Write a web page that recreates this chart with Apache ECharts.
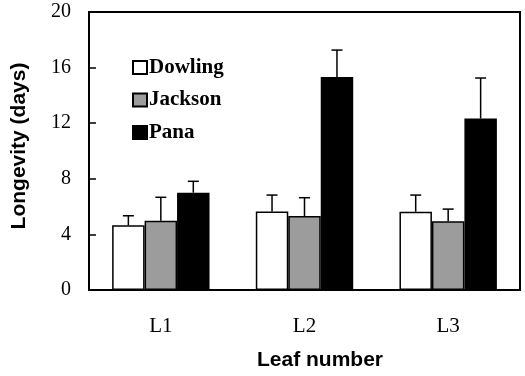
<!DOCTYPE html>
<html>
<head>
<meta charset="utf-8">
<script src="https://cdn.jsdelivr.net/npm/echarts@6/dist/echarts.min.js"></script>
<style>
html,body{margin:0;padding:0;background:#fff;}
#chart{width:525px;height:376px;}
</style>
</head>
<body>
<div id="chart"></div>
<script>
const categories = ['L1', 'L2', 'L3'];
const seriesNames = ['Dowling', 'Jackson', 'Pana'];
const dowling = [4.66, 5.65, 5.63];
const jackson = [4.99, 5.32, 4.94];
const pana = [7.0, 15.32, 12.34];
const dowlingErr = [0.68, 1.18, 1.20];
const jacksonErr = [1.68, 1.32, 0.88];
const panaErr = [0.82, 1.94, 2.91];
const yTicks = [0, 4, 8, 12, 16, 20];

const values = [dowling, jackson, pana];
const errs = [dowlingErr, jacksonErr, panaErr];
const fills = ['#ffffff', '#9c9c9c', '#000000'];
const BAR_FRAC = 0.226;

const chart = echarts.init(document.getElementById('chart'), null, {renderer: 'canvas'});

const barSeries = seriesNames.map((name, i) => ({
  name: name,
  type: 'bar',
  data: values[i],
  barWidth: (BAR_FRAC * 100) + '%',
  barGap: '0%',
  itemStyle: {color: fills[i], borderColor: '#000', borderWidth: 1.5},
  emphasis: {disabled: true},
  z: 2
}));

const errData = [];
values.forEach((arr, si) => {
  arr.forEach((v, ci) => { errData.push([ci, v, errs[si][ci], si]); });
});

const errSeries = {
  type: 'custom',
  data: errData,
  encode: {x: 0, y: 1},
  z: 3,
  silent: true,
  renderItem: function (params, api) {
    const cat = api.value(0), v = api.value(1), e = api.value(2), si = api.value(3);
    const p0 = api.coord([cat, v]);
    const p1 = api.coord([cat, v + e]);
    const cw = api.size([1, 0])[0];
    const bw = cw * BAR_FRAC;
    const x = p0[0] + (si - 1) * bw;
    const st = {stroke: '#000', lineWidth: 1.5};
    return {
      type: 'group',
      children: [
        {type: 'line', shape: {x1: x, y1: p0[1], x2: x, y2: p1[1]}, style: st},
        {type: 'line', shape: {x1: x - 5.5, y1: p1[1], x2: x + 5.5, y2: p1[1]}, style: st}
      ]
    };
  }
};

chart.setOption({
  animation: false,
  backgroundColor: '#fff',
  grid: {left: 89, right: 5, top: 12, bottom: 82, show: true, borderColor: '#000', borderWidth: 2, backgroundColor: 'transparent'},
  legend: {
    orient: 'vertical',
    left: 127,
    top: 52,
    itemWidth: 14,
    itemHeight: 13,
    itemGap: 11.5,
    icon: 'rect',
    selectedMode: false,
    data: seriesNames,
    textStyle: {fontFamily: 'Liberation Serif', fontWeight: 'bold', fontSize: 21, color: '#000', padding: [0, 0, 0, -3]}
  },
  xAxis: {
    type: 'category',
    data: categories,
    name: 'Leaf number',
    nameLocation: 'middle',
    nameGap: 60,
    nameTextStyle: {fontFamily: 'Liberation Sans', fontWeight: 'bold', fontSize: 21, color: '#000', padding: [0, 0, 0, 31]},
    axisLine: {lineStyle: {color: '#000', width: 2}},
    axisTick: {inside: true, length: 7, lineStyle: {color: '#000', width: 1.5}},
    axisLabel: {fontFamily: 'Liberation Serif', fontSize: 21, color: '#000', margin: 26}
  },
  yAxis: {
    type: 'value',
    min: yTicks[0],
    max: yTicks[yTicks.length - 1],
    interval: yTicks[1] - yTicks[0],
    name: 'Longevity (days)',
    nameLocation: 'middle',
    nameGap: 59,
    nameTextStyle: {fontFamily: 'Liberation Sans', fontWeight: 'bold', fontSize: 21, color: '#000', padding: [0, 0, 0, 10]},
    axisLine: {show: true, lineStyle: {color: '#000', width: 2}},
    axisTick: {show: true, inside: true, length: 7, lineStyle: {color: '#000', width: 1.5}},
    splitLine: {show: false},
    axisLabel: {fontFamily: 'Liberation Serif', fontSize: 20, color: '#000', margin: 18}
  },
  series: [...barSeries, errSeries]
});
</script>
</body>
</html>
